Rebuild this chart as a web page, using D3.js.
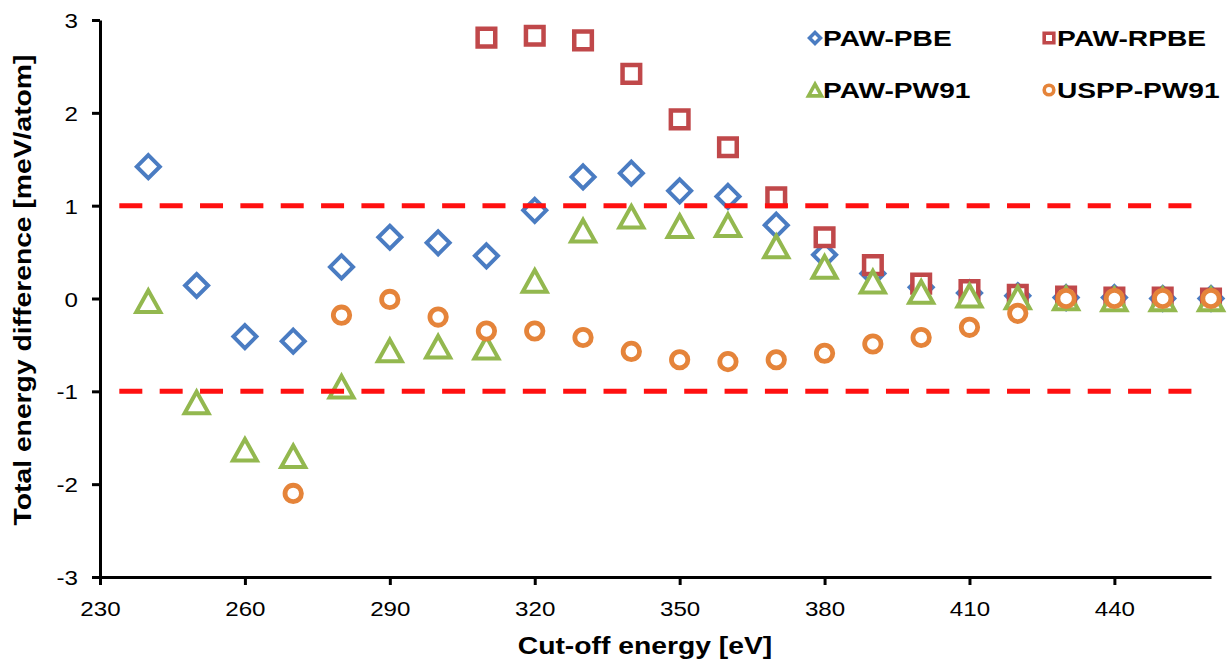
<!DOCTYPE html>
<html>
<head>
<meta charset="utf-8">
<script src="https://cdn.jsdelivr.net/npm/d3@7"></script>
<style>
  html, body { margin: 0; padding: 0; background: #ffffff; }
  svg { display: block; }
  text { font-family: "Liberation Sans", Arial, sans-serif; fill: #000; }
</style>
</head>
<body>
<svg id="chart" width="1232" height="666"></svg>
<script>
// Cut-off energies (eV) for each pseudopotential / functional combination
const cutoffPBE  = [240,250,260,270,280,290,300,310,320,330,340,350,360,370,380,390,400,410,420,430,440,450,460];
const pawPBE     = [1.42,0.14,-0.41,-0.46,0.34,0.66,0.60,0.46,0.95,1.31,1.35,1.16,1.10,0.79,0.47,0.27,0.12,0.06,0.03,0.01,0.01,0.00,0.00];

const cutoffRPBE = [310,320,330,340,350,360,370,380,390,400,410,420,430,440,450,460];
const pawRPBE    = [2.81,2.83,2.78,2.42,1.93,1.63,1.09,0.66,0.36,0.16,0.09,0.04,0.02,0.01,0.01,0.00];

const cutoffPW91 = [240,250,260,270,280,290,300,310,320,330,340,350,360,370,380,390,400,410,420,430,440,450,460];
const pawPW91    = [-0.03,-1.12,-1.63,-1.70,-0.95,-0.56,-0.52,-0.53,0.19,0.73,0.88,0.78,0.79,0.56,0.34,0.18,0.07,0.03,0.01,0.00,-0.01,-0.01,-0.01];

const cutoffUSPP = [270,280,290,300,310,320,330,340,350,360,370,380,390,400,410,420,430,440,450,460];
const usppPW91   = [-2.10,-0.18,-0.01,-0.20,-0.35,-0.35,-0.42,-0.57,-0.66,-0.68,-0.66,-0.59,-0.49,-0.42,-0.31,-0.16,0.00,0.00,0.00,0.00];

// Tolerance band (±1 meV/atom)
const tolerance = [1, -1];
const toleranceSpan = [234, 456];

const xTicks = [230,260,290,320,350,380,410,440];
const yTicks = [-3,-2,-1,0,1,2,3];

const seriesNames = ["PAW-PBE","PAW-RPBE","PAW-PW91","USPP-PW91"];

const svg = d3.select("#chart");
const x = d3.scaleLinear().domain([230, 460]).range([100, 1211]);
const y = d3.scaleLinear().domain([-3, 3]).range([577, 20]);

const stretch = 1.15;

// Marker shapes (size = half-extent in px)
const shapes = {
  diamond: { draw(ctx, s) { ctx.moveTo(0,-s); ctx.lineTo(s,0); ctx.lineTo(0,s); ctx.lineTo(-s,0); ctx.closePath(); } },
  square:  { draw(ctx, s) { ctx.rect(-s,-s,2*s,2*s); } },
  triangle:{ draw(ctx, s) { const h = s*0.9; ctx.moveTo(0,-h); ctx.lineTo(s,h); ctx.lineTo(-s,h); ctx.closePath(); } },
  circle:  { draw(ctx, s) { ctx.moveTo(s,0); ctx.arc(0,0,s,0,2*Math.PI); } }
};

const series = [
  { name: seriesNames[0], xs: cutoffPBE,  ys: pawPBE,   shape: "diamond",  color: "#4a7cc2", size: 11.5, sw: 4,   lsize: 5.5, lsw: 3.5 },
  { name: seriesNames[1], xs: cutoffRPBE, ys: pawRPBE,  shape: "square",   color: "#c0484a", size: 8.8,  sw: 4.5, lsize: 4.8, lsw: 3.6 },
  { name: seriesNames[2], xs: cutoffPW91, ys: pawPW91,  shape: "triangle", color: "#93b84f", size: 12,   sw: 4,   lsize: 6.5, lsw: 3.6 },
  { name: seriesNames[3], xs: cutoffUSPP, ys: usppPW91, shape: "circle",   color: "#e5843a", size: 8.2,  sw: 4.8, lsize: 4.8, lsw: 3.6 }
];

// Axes
const yAxis = svg.append("g")
  .attr("transform", `translate(${x(230)},0)`)
  .call(d3.axisLeft(y).tickValues(yTicks).tickSizeInner(8).tickSizeOuter(0).tickFormat(d3.format("d")));
yAxis.select(".domain").attr("stroke", "#000").attr("stroke-width", 3);
yAxis.selectAll(".tick line").attr("stroke", "#000").attr("stroke-width", 3);
yAxis.selectAll(".tick text")
  .attr("font-size", 21).attr("x", -22 / stretch).attr("dy", "0.36em")
  .attr("transform", `scale(${stretch},1)`)
  .text(d => d < 0 ? "-" + Math.abs(d) : d);

const xAxis = svg.append("g")
  .attr("transform", `translate(0,${y(-3)})`)
  .call(d3.axisBottom(x).tickValues(xTicks).tickSizeInner(8).tickSizeOuter(0).tickFormat(d3.format("d")));
xAxis.select(".domain").attr("stroke", "#000").attr("stroke-width", 3);
xAxis.selectAll(".tick line").attr("stroke", "#000").attr("stroke-width", 3);
xAxis.selectAll(".tick text")
  .attr("font-size", 21).attr("y", 39).attr("dy", null)
  .attr("transform", `scale(${stretch},1)`);

// Axis titles
svg.append("text")
  .attr("transform", `translate(645,654) scale(1.23,1)`)
  .attr("text-anchor", "middle").attr("font-size", 23).attr("font-weight", "bold")
  .text("Cut-off energy [eV]");

svg.append("text")
  .attr("transform", `translate(31,290) rotate(-90) scale(1.23,1)`)
  .attr("text-anchor", "middle").attr("font-size", 23).attr("font-weight", "bold")
  .text("Total energy difference [meV/atom]");

// Data markers
const plot = svg.append("g");
series.forEach(s => {
  const sym = d3.symbol().type(shapes[s.shape]).size(s.size);
  plot.append("g").selectAll("path")
    .data(s.xs.map((e, i) => ({ e, v: s.ys[i] })))
    .join("path")
    .attr("transform", d => `translate(${x(d.e)},${y(d.v)})`)
    .attr("d", sym())
    .attr("fill", "#fff")
    .attr("stroke", s.color)
    .attr("stroke-width", s.sw);
});

// ±1 meV/atom dashed guides
svg.append("g").selectAll("line")
  .data(tolerance)
  .join("line")
  .attr("x1", x(toleranceSpan[0])).attr("x2", x(toleranceSpan[1]))
  .attr("y1", d => y(d)).attr("y2", d => y(d))
  .attr("stroke", "#ff1010").attr("stroke-width", 5)
  .attr("stroke-dasharray", "23,17.35");

// Legend (two rows, two columns)
const legendPos = [[815, 38], [1049, 38], [815, 90], [1049, 90]];
const legend = svg.append("g");
series.forEach((s, i) => {
  const [lx, ly] = legendPos[i];
  const sym = d3.symbol().type(shapes[s.shape]).size(s.lsize);
  legend.append("path")
    .attr("transform", `translate(${lx},${ly})`)
    .attr("d", sym())
    .attr("fill", "#fff")
    .attr("stroke", s.color)
    .attr("stroke-width", s.lsw);
  legend.append("text")
    .attr("transform", `translate(${lx + 8},${ly + 8}) scale(1.28,1)`)
    .attr("font-size", 22).attr("font-weight", "bold")
    .text(s.name);
});
</script>
</body>
</html>
